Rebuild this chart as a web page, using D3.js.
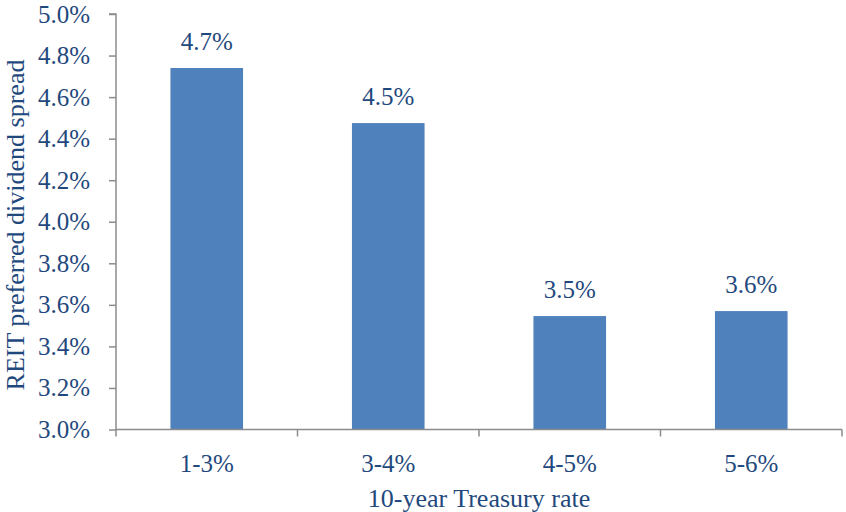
<!DOCTYPE html>
<html>
<head>
<meta charset="utf-8">
<script src="https://cdn.jsdelivr.net/npm/d3@7"></script>
</head>
<body style="margin:0;background:#fff">
<svg id="chart" width="846" height="512" style="display:block"></svg>
<script>
// Treasury rate buckets and the average REIT preferred dividend spread in each
const categories = ["1-3%", "3-4%", "4-5%", "5-6%"];
const spreads = [4.74, 4.475, 3.546, 3.57];
const yTicks = [3.0, 3.2, 3.4, 3.6, 3.8, 4.0, 4.2, 4.4, 4.6, 4.8, 5.0];
const xTitle = "10-year Treasury rate";
const yTitle = "REIT preferred dividend spread";

const svg = d3.select("#chart");
const plotLeft = 116, plotRight = 842, plotTop = 14, plotBottom = 429.5;

const x = d3.scaleBand().domain(categories).range([plotLeft, plotRight]).padding(0);
const y = d3.scaleLinear().domain([3.0, 5.0]).range([plotBottom, plotTop]);

const axisColor = "#8C8C8C";
const textColor = "#1F497D";
const fontFamily = "Liberation Serif";
const fmt = v => v.toFixed(1) + "%";

function styleText(sel, size) {
  return sel.style("font-family", fontFamily).style("font-size", size + "px").style("fill", textColor);
}

// bars
const barFrac = 0.4;
svg.append("g").selectAll("rect")
  .data(categories)
  .join("rect")
  .attr("x", (d) => x(d) + x.bandwidth() * (1 - barFrac) / 2)
  .attr("width", x.bandwidth() * barFrac)
  .attr("y", (d, i) => y(spreads[i]))
  .attr("height", (d, i) => y(3.0) - y(spreads[i]))
  .attr("fill", "#4F81BD");

// value labels
svg.append("g").selectAll("text")
  .data(categories)
  .join("text")
  .attr("x", d => x(d) + x.bandwidth() / 2)
  .attr("y", (d, i) => y(spreads[i]) - 18)
  .attr("text-anchor", "middle")
  .call(styleText, 25)
  .text((d, i) => fmt(spreads[i]));

// y axis
const yAxis = svg.append("g")
  .attr("transform", `translate(${plotLeft},0)`)
  .call(d3.axisLeft(y).tickValues(yTicks).tickFormat(fmt).tickSize(7).tickPadding(19));
yAxis.select(".domain").attr("stroke", axisColor).attr("stroke-width", 1.5)
  .attr("d", `M-7,${plotTop}H0V${plotBottom + 7}`);
yAxis.selectAll(".tick line").attr("stroke", axisColor).attr("stroke-width", 1.5);
yAxis.selectAll(".tick text").call(styleText, 25);

// x axis
const xAxis = svg.append("g")
  .attr("transform", `translate(0,${plotBottom})`)
  .call(d3.axisBottom(x).tickSize(0));
xAxis.select(".domain").attr("stroke", axisColor).attr("stroke-width", 1.5)
  .attr("d", `M${plotLeft},0H${plotRight}`);
xAxis.selectAll(".tick text").attr("y", 42).attr("dy", null).call(styleText, 25);
// boundary ticks between categories
const bounds = categories.map(d => x(d)).concat([x(categories[categories.length - 1]) + x.bandwidth()]);
xAxis.selectAll("line.bound")
  .data(bounds.slice(1))
  .join("line")
  .attr("class", "bound")
  .attr("x1", d => d).attr("x2", d => d)
  .attr("y1", 0).attr("y2", 7)
  .attr("stroke", axisColor).attr("stroke-width", 1.5);

// axis titles
svg.append("text")
  .attr("x", (plotLeft + plotRight) / 2)
  .attr("y", 507)
  .attr("text-anchor", "middle")
  .call(styleText, 26)
  .text(xTitle);

svg.append("text")
  .attr("transform", `translate(24,225) rotate(-90)`)
  .attr("text-anchor", "middle")
  .call(styleText, 26)
  .text(yTitle);
</script>
</body>
</html>
